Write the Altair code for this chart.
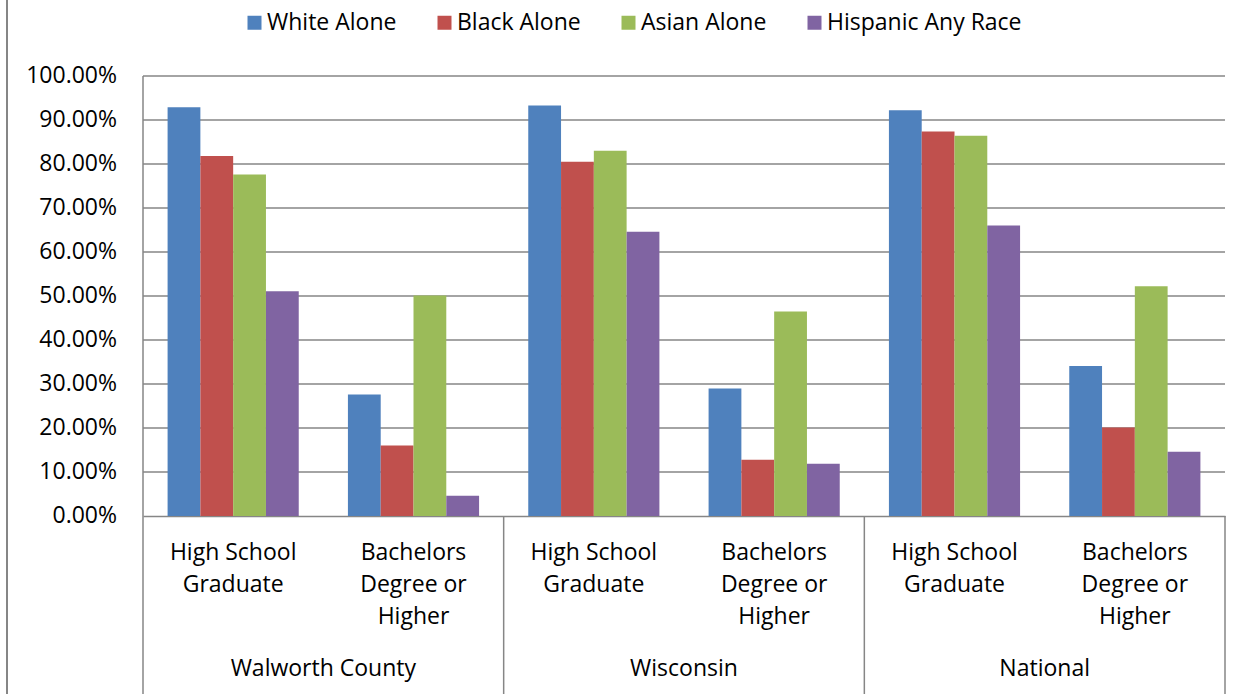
import altair as alt
import pandas as pd

# Educational attainment by race, three geographies
groups = ["Walworth County", "Wisconsin", "National"]
levels = ["High School\nGraduate", "Bachelors\nDegree or\nHigher"]
races = ["White Alone", "Black Alone", "Asian Alone", "Hispanic Any Race"]
colors = ["#4F81BD", "#C0504D", "#9BBB59", "#8064A2"]

# percent values, one per (group, level) in order
white = [92.9, 27.6, 93.3, 29.0, 92.2, 34.1]
black = [81.8, 16.0, 80.5, 12.8, 87.4, 20.1]
asian = [77.6, 50.1, 83.0, 46.5, 86.4, 52.2]
hispanic = [51.1, 4.6, 64.6, 11.9, 66.0, 14.6]
series = [white, black, asian, hispanic]

y_ticks = [i / 10 for i in range(11)]

keys, cat_rows, rows = [], [], []
for gi, g in enumerate(groups):
    for li, lv in enumerate(levels):
        key = f"{g}|{li}"
        keys.append(key)
        cat_rows.append({"key": key, "label": lv, "group": g})
        for race, vals in zip(races, series):
            rows.append({"key": key, "race": race, "value": vals[gi * 2 + li] / 100})

df = pd.DataFrame(rows)
cats = pd.DataFrame(cat_rows)
group_mid = pd.DataFrame({"key": [f"{g}|0" for g in groups], "group": groups})
group_left = pd.DataFrame({"key": [f"{g}|0" for g in groups]})
tick_df = pd.DataFrame({"tick": y_ticks})
grid_df = pd.DataFrame({"tick": y_ticks[1:]})

FONT = "Open Sans"
FS = 23
GRAY = "#868686"
W, H = 1082, 440

x_scale = alt.Scale(domain=keys, paddingInner=0, paddingOuter=0)
y_scale = alt.Scale(domain=[0, 1], nice=False)

# horizontal gridlines at each tick
grid = alt.Chart(grid_df).mark_rule(color=GRAY, strokeWidth=1.5).encode(
    y=alt.Y("tick:Q", scale=y_scale, axis=None),
    x=alt.value(0),
    x2=alt.value(W),
)

# vertical value axis line
y_line = alt.Chart(pd.DataFrame({"a": [0]})).mark_rule(color=GRAY, strokeWidth=1.5).encode(
    x=alt.value(0),
    y=alt.value(0),
    y2=alt.value(H),
)

# percentage tick labels
y_labels = alt.Chart(tick_df).transform_calculate(
    label="format(datum.tick, '.2%')"
).mark_text(
    font=FONT, fontSize=FS, align="right", baseline="middle", color="black",
).encode(
    y=alt.Y("tick:Q", scale=y_scale, axis=None),
    x=alt.value(-26),
    text="label:N",
)

bars = alt.Chart(df).mark_bar().encode(
    x=alt.X("key:N", scale=x_scale, sort=keys,
            axis=alt.Axis(labels=False, ticks=False, title=None, grid=False,
                          domainColor=GRAY, domainWidth=1.5)),
    xOffset=alt.XOffset("race:N", sort=races,
                        scale=alt.Scale(domain=races, paddingInner=0, paddingOuter=0.75)),
    y=alt.Y("value:Q", scale=y_scale, axis=None),
    color=alt.Color("race:N", sort=races,
                    scale=alt.Scale(domain=races, range=colors),
                    legend=alt.Legend(title=None, orient="none", legendX=100, legendY=-65,
                                      direction="horizontal", columns=4,
                                      symbolType="square", symbolSize=196,
                                      symbolStrokeWidth=0, labelFontSize=FS,
                                      labelFont=FONT, labelColor="black",
                                      labelLimit=400, columnPadding=36,
                                      labelOffset=1, padding=0)),
)

cat_labels = alt.Chart(cats).mark_text(
    font=FONT, fontSize=FS, lineBreak="\n", lineHeight=32,
    baseline="alphabetic", align="center", color="black",
).encode(
    x=alt.X("key:N", scale=x_scale, sort=keys),
    y=alt.value(484),
    text="label:N",
)

group_labels = alt.Chart(group_mid).mark_text(
    font=FONT, fontSize=FS, baseline="alphabetic", align="center", color="black",
).encode(
    x=alt.X("key:N", scale=x_scale, sort=keys, bandPosition=1),
    y=alt.value(600),
    text="group:N",
)

# vertical dividers below the axis: left edge of each group, plus the far right edge
sep_left = alt.Chart(group_left).mark_rule(color=GRAY, strokeWidth=1.5).encode(
    x=alt.X("key:N", scale=x_scale, sort=keys, bandPosition=0),
    y=alt.value(H),
    y2=alt.value(618),
)

sep_right = alt.Chart(pd.DataFrame({"a": [0]})).mark_rule(color=GRAY, strokeWidth=1.5).encode(
    x=alt.value(W),
    y=alt.value(H),
    y2=alt.value(618),
)

frame = alt.Chart(pd.DataFrame({"a": [0]})).mark_rule(color=GRAY, strokeWidth=2).encode(
    x=alt.value(-136),
    y=alt.value(-76),
    y2=alt.value(618),
)

chart = alt.layer(
    frame, grid, y_line, sep_left, sep_right, bars, y_labels, cat_labels, group_labels
).properties(
    width=W, height=H,
    autosize="none",
    padding={"left": 143, "top": 76, "right": 25, "bottom": 178},
    background="white",
).configure(font=FONT).configure_axis(grid=False).configure_view(
    stroke="transparent", strokeWidth=0, strokeOpacity=0
)

chart.save("out.html", embed_options={"renderer": "svg", "actions": False})
